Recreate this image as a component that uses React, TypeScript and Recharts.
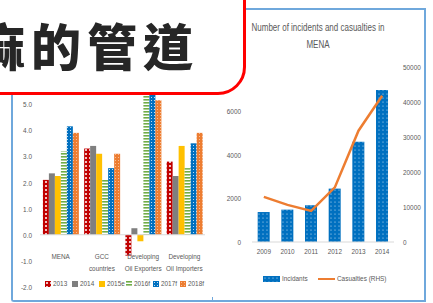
import React from 'react';
import { BarChart, Bar, ComposedChart, Line, XAxis, YAxis, ReferenceLine } from 'recharts';

const regions = ['MENA', 'GCC countries', 'Developing Oil Exporters', 'Developing Oil Importers'];
const regionLines = [['MENA'], ['GCC', 'countries'], ['Developing', 'Oil Exporters'], ['Developing', 'Oil Importers']];
const growthSeries = ['2013', '2014', '2015e', '2016f', '2017f', '2018f'];
const g2013 = [2.1, 3.3, -0.8, 2.8];
const g2014 = [2.35, 3.4, 0.25, 2.25];
const g2015 = [2.25, 3.1, -0.25, 3.4];
const g2016 = [3.2, 2.1, 5.6, 2.55];
const g2017 = [4.15, 2.55, 5.9, 3.5];
const g2018 = [3.9, 3.1, 5.15, 3.9];
const growthDomain = [-2, 6];
const growthTicks = [-2, -1, 0, 1, 2, 3, 4, 5];

const years = ['2009', '2010', '2011', '2012', '2013', '2014'];
const incidents = [1370, 1480, 1680, 2440, 4580, 6950];
const casualties = [12900, 10600, 8900, 15600, 31800, 41800];
const incidentTicks = [0, 2000, 4000, 6000];
const casualtyTicks = [0, 10000, 20000, 30000, 40000, 50000];

const growthData = regions.map((r, i) => ({
  region: r,
  '2013': g2013[i],
  '2014': g2014[i],
  '2015e': g2015[i],
  '2016f': g2016[i],
  '2017f': g2017[i],
  '2018f': g2018[i],
}));

const incidentData = years.map((y, i) => ({ year: y, incidents: incidents[i], casualties: casualties[i] }));

const fills: Record<string, string> = {
  '2013': 'url(#pRed)',
  '2014': '#7f7f7f',
  '2015e': '#ffc000',
  '2016f': 'url(#pGreen)',
  '2017f': 'url(#pBlue)',
  '2018f': 'url(#pOrange)',
};

const font = '"Liberation Sans", sans-serif';
const grey = '#595959';
const border = '#6fa8dc';
const NARROW = 0.8;

// left chart geometry (for putting the category labels under the zero line)
const L_TOP = 78;
const L_BOTTOM = 15;
const L_H = 303;
const plotH = L_H - L_TOP - L_BOTTOM - 1;
const zeroShift = (plotH * (0 - growthDomain[0])) / (growthDomain[1] - growthDomain[0]);

const Patterns = () => (
  <defs>
    <pattern id="pRed" width="4" height="4" patternUnits="userSpaceOnUse">
      <rect width="4" height="4" fill="#c00000" />
      <circle cx="2" cy="2" r="1" fill="#ffffff" />
    </pattern>
    <pattern id="pGreen" width="4" height="3" patternUnits="userSpaceOnUse">
      <rect width="4" height="3" fill="#ffffff" />
      <rect width="4" height="1.6" fill="#70ad47" />
    </pattern>
    <pattern id="pBlue" width="3" height="3" patternUnits="userSpaceOnUse">
      <rect width="3" height="3" fill="#0070c0" />
      <circle cx="1.5" cy="1.5" r="0.5" fill="#ffffff" />
    </pattern>
    <pattern id="pOrange" width="3" height="3" patternUnits="userSpaceOnUse">
      <rect width="3" height="3" fill="#ed7d31" />
      <circle cx="1.5" cy="1.5" r="0.5" fill="#fbd3b8" />
    </pattern>
    <pattern id="pInc" width="4" height="4" patternUnits="userSpaceOnUse">
      <rect width="4" height="4" fill="#0070c0" />
      <circle cx="2" cy="2" r="0.6" fill="#cfe3f5" />
    </pattern>
  </defs>
);

const NarrowText = ({ x, y, anchor, children }: any) => (
  <text transform={`translate(${x},${y}) scale(${NARROW},1)`} textAnchor={anchor} fontSize={8} fill={grey} fontFamily={font}>
    {children}
  </text>
);

const RegionTick = (props: any) => {
  const { x, y, index } = props;
  const lines = regionLines[index] || [];
  return (
    <g>
      {lines.map((t, k) => (
        <NarrowText key={k} x={x} y={y - zeroShift + 16 + k * 12} anchor="middle">
          {t}
        </NarrowText>
      ))}
    </g>
  );
};

const YearTick = (props: any) => (
  <NarrowText x={props.x} y={props.y + 8} anchor="middle">
    {props.payload.value}
  </NarrowText>
);

const makeYTick = (anchor: string, fmt: (v: number) => string) => (props: any) => (
  <NarrowText x={props.x} y={props.y + 3} anchor={anchor}>
    {fmt(props.payload.value)}
  </NarrowText>
);

const GrowthTick = makeYTick('end', (v) => v.toFixed(1));
const LeftTick = makeYTick('end', (v) => String(v));
const RightTick = makeYTick('start', (v) => String(v));

const GrowthLegend = () => (
  <div style={{ display: 'flex', fontFamily: font, fontSize: 8, color: grey }}>
    {growthSeries.map((s) => (
      <div key={s} style={{ display: 'flex', alignItems: 'center', width: 27 }}>
        <svg width={6} height={6} style={{ marginRight: 2, flex: 'none' }}>
          <rect width={6} height={6} fill={fills[s]} />
        </svg>
        <span style={{ display: 'inline-block', transform: `scaleX(${NARROW})`, transformOrigin: 'left' }}>{s}</span>
      </div>
    ))}
  </div>
);

const IncidentLegend = () => (
  <div style={{ display: 'flex', alignItems: 'center', fontFamily: font, fontSize: 8, color: grey }}>
    <svg width={17} height={6} style={{ marginRight: 2 }}>
      <rect width={17} height={6} fill="url(#pInc)" />
    </svg>
    <span style={{ display: 'inline-block', width: 36, transform: `scaleX(${NARROW})`, transformOrigin: 'left' }}>Incidants</span>
    <svg width={17} height={6} style={{ marginRight: 2 }}>
      <line x1={0} x2={17} y1={3} y2={3} stroke="#ed7d31" strokeWidth={2} />
    </svg>
    <span style={{ display: 'inline-block', transform: `scaleX(${NARROW})`, transformOrigin: 'left', whiteSpace: 'nowrap' }}>Casualties (RHS)</span>
  </div>
);

export default function App() {
  return (
    <div style={{ position: 'absolute', left: 0, top: 0, width: 433, height: 303, overflow: 'hidden', background: '#fff' }}>
      <div style={{ position: 'absolute', left: 11, top: 40, width: 202, height: 258, borderLeft: `2px solid ${border}`, borderBottom: `2px solid ${border}`, borderTop: `2px solid ${border}`, borderBottomLeftRadius: 3 }} />
      <div style={{ position: 'absolute', left: 213, top: 8, width: 211, height: 290, borderTop: `2px solid ${border}`, borderRight: `2px solid ${border}`, borderBottom: `2px solid ${border}` }} />
      <div style={{ position: 'absolute', left: 212, top: 297, width: 1, height: 5, background: border }} />

      <div style={{ position: 'absolute', left: 0, top: 0 }}>
        <BarChart width={213} height={L_H} data={growthData} margin={{ top: L_TOP, right: 8, bottom: L_BOTTOM, left: 0 }} barCategoryGap="7%" barGap={0}>
          <Patterns />
          <XAxis dataKey="region" axisLine={false} tickLine={false} height={1} interval={0} tick={<RegionTick />} />
          <YAxis domain={growthDomain} ticks={growthTicks} width={40} axisLine={false} tickLine={false} tickSize={0} tickMargin={8} tick={<GrowthTick />} />
          <ReferenceLine y={0} stroke="#d9d9d9" />
          {growthSeries.map((s) => (
            <Bar key={s} dataKey={s} fill={fills[s]} isAnimationActive={false} />
          ))}
        </BarChart>
      </div>
      <div style={{ position: 'absolute', left: 45, top: 279 }}>
        <GrowthLegend />
      </div>

      <div style={{ position: 'absolute', left: 218, top: 19, width: 200, textAlign: 'center', fontFamily: font, fontSize: 10, lineHeight: '17px', color: grey, whiteSpace: 'nowrap', transform: `scaleX(${NARROW})` }}>
        Number of incidents and casualties in
        <br />
        MENA
      </div>
      <div style={{ position: 'absolute', left: 213, top: 0 }}>
        <ComposedChart width={212} height={303} data={incidentData} margin={{ top: 67, right: 0, bottom: 41, left: 0 }} barCategoryGap="24%">
          <XAxis dataKey="year" height={20} interval={0} axisLine={{ stroke: '#d9d9d9' }} tickLine={false} tickSize={0} tickMargin={4} tick={<YearTick />} />
          <YAxis yAxisId="l" domain={[0, 8000]} ticks={incidentTicks} width={39} axisLine={false} tickLine={false} tickSize={0} tickMargin={11} tick={<LeftTick />} />
          <YAxis yAxisId="r" orientation="right" domain={[0, 50000]} ticks={casualtyTicks} width={31} axisLine={false} tickLine={false} tickSize={0} tickMargin={9} tick={<RightTick />} />
          <Bar yAxisId="l" dataKey="incidents" fill="url(#pInc)" isAnimationActive={false} />
          <Line yAxisId="r" dataKey="casualties" type="linear" stroke="#ed7d31" strokeWidth={2.5} dot={false} isAnimationActive={false} />
        </ComposedChart>
      </div>
      <div style={{ position: 'absolute', left: 263, top: 274 }}>
        <IncidentLegend />
      </div>

      <div style={{ position: 'absolute', left: -30, top: -30, width: 270, height: 119, border: '3px solid #ff0000', borderRadius: 28, background: '#fff', overflow: 'hidden' }}>
        <div style={{ position: 'absolute', left: 2, top: 43, whiteSpace: 'nowrap', fontFamily: '"Noto Sans CJK TC", sans-serif', fontWeight: 900, fontSize: 50, lineHeight: '56px', letterSpacing: 6, color: '#262626' }}>
          麻的管道
        </div>
      </div>
    </div>
  );
}
